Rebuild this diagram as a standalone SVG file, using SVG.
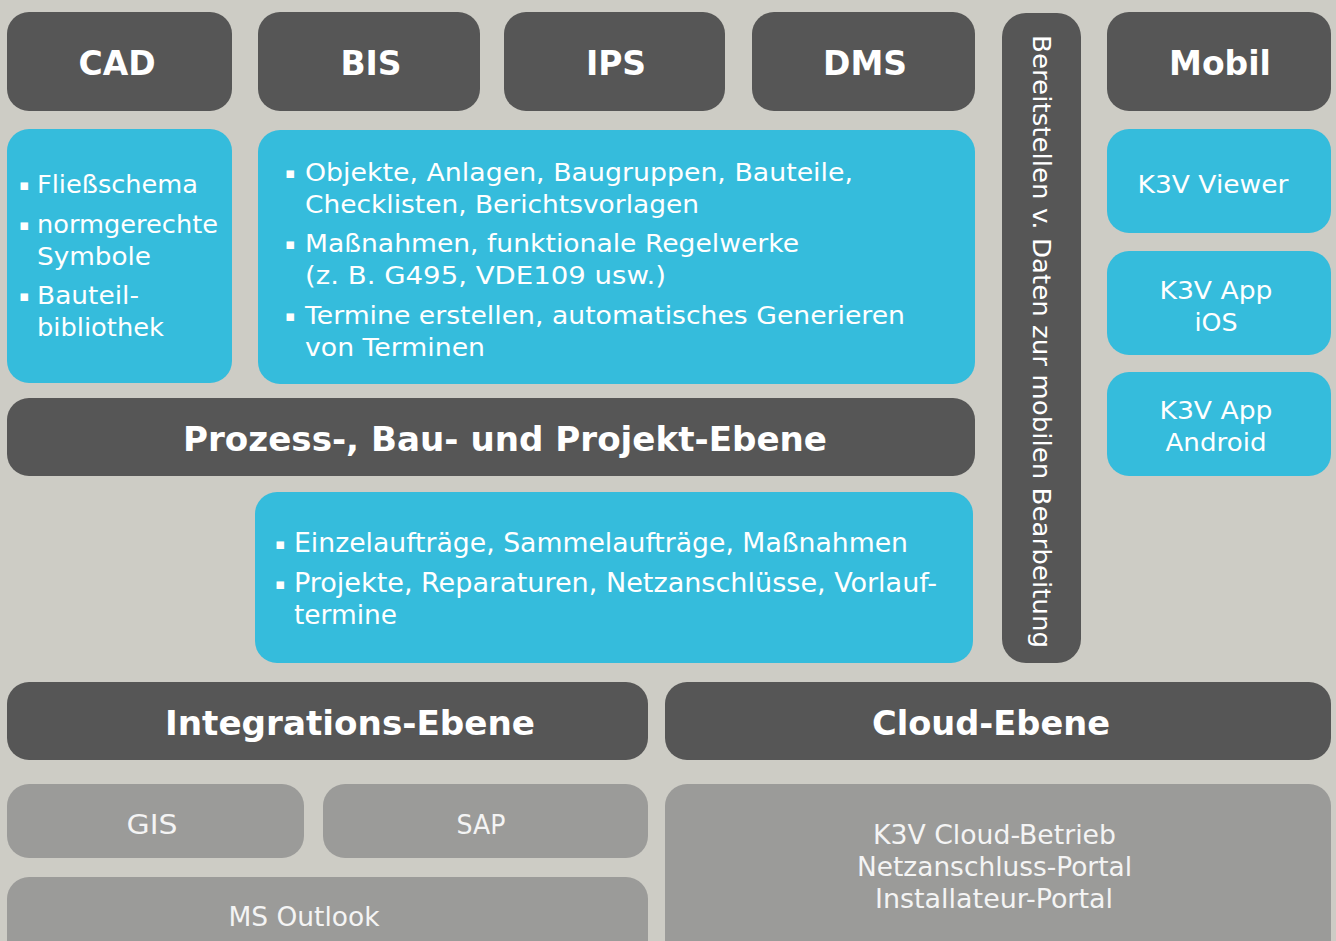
<svg xmlns="http://www.w3.org/2000/svg" width="1336" height="941" viewBox="0 0 1336 941">
<style>
.dark{fill:#565656}
.blue{fill:#35bcdc}
.grey{fill:#9b9b99}
.h{font-family:"DejaVu Sans","Liberation Sans",sans-serif;font-weight:bold;font-size:33px;fill:#ffffff}
.hc{font-family:"DejaVu Sans Condensed","DejaVu Sans","Liberation Sans",sans-serif;font-weight:bold;font-size:33px;fill:#ffffff}
.t{font-family:"DejaVu Sans","Liberation Sans",sans-serif;font-size:25px;fill:#ffffff}
.tc{font-family:"DejaVu Sans Condensed","DejaVu Sans","Liberation Sans",sans-serif;font-size:26px;fill:#ffffff}
.g{font-family:"DejaVu Sans Condensed","DejaVu Sans","Liberation Sans",sans-serif;font-size:27px;fill:#f4f4f4}
.b{font-family:"DejaVu Sans","Liberation Sans",sans-serif;font-size:15px;fill:#ffffff}
.m{text-anchor:middle}
</style>
<rect width="1336" height="941" fill="#cdccc5"/>
<g id="cad"><rect class="dark" x="7" y="12" width="225" height="99" rx="22"/><text class="h m" x="117" y="75">CAD</text></g>
<g id="bis"><rect class="dark" x="258" y="12" width="222" height="99" rx="22"/><text class="h m" x="371" y="75">BIS</text></g>
<g id="ips"><rect class="dark" x="504" y="12" width="221" height="99" rx="22"/><text class="h m" x="616" y="75">IPS</text></g>
<g id="dms"><rect class="dark" x="752" y="12" width="223" height="99" rx="22"/><text class="h m" x="865" y="75">DMS</text></g>
<g id="mobil"><rect class="dark" x="1107" y="12" width="224" height="99" rx="22"/><text class="h m" x="1220" y="75">Mobil</text></g>
<g id="bereitstellen"><rect class="dark" x="1002" y="13" width="79" height="650" rx="24"/><text class="t" transform="translate(1033,35) rotate(90)" textLength="613" lengthAdjust="spacingAndGlyphs" style="font-size:24px">Bereitstellen v. Daten zur mobilen Bearbeitung</text></g>
<g id="cad-details"><rect class="blue" x="7" y="129" width="225" height="254" rx="22"/>
<text class="b" x="19" y="190">▪</text><text class="t" x="37" y="193" textLength="161" lengthAdjust="spacingAndGlyphs">Fließschema</text>
<text class="b" x="19" y="230">▪</text><text class="t" x="37" y="233" textLength="181" lengthAdjust="spacingAndGlyphs">normgerechte</text>
<text class="t" x="37" y="265" textLength="114" lengthAdjust="spacingAndGlyphs">Symbole</text>
<text class="b" x="19" y="301">▪</text><text class="t" x="37" y="304" textLength="102" lengthAdjust="spacingAndGlyphs">Bauteil-</text>
<text class="t" x="37" y="336" textLength="127" lengthAdjust="spacingAndGlyphs">bibliothek</text>
</g>
<g id="bis-details"><rect class="blue" x="258" y="130" width="717" height="254" rx="22"/>
<text class="b" x="285" y="178">▪</text><text class="t" x="305" y="181" textLength="548" lengthAdjust="spacingAndGlyphs">Objekte, Anlagen, Baugruppen, Bauteile,</text>
<text class="t" x="305" y="213" textLength="394" lengthAdjust="spacingAndGlyphs">Checklisten, Berichtsvorlagen</text>
<text class="b" x="285" y="249">▪</text><text class="t" x="305" y="252" textLength="494" lengthAdjust="spacingAndGlyphs">Maßnahmen, funktionale Regelwerke</text>
<text class="t" x="305" y="284" textLength="361" lengthAdjust="spacingAndGlyphs">(z. B. G495, VDE109 usw.)</text>
<text class="b" x="285" y="321">▪</text><text class="t" x="305" y="324" textLength="600" lengthAdjust="spacingAndGlyphs">Termine erstellen, automatisches Generieren</text>
<text class="t" x="305" y="356" textLength="180" lengthAdjust="spacingAndGlyphs">von Terminen</text>
</g>
<g id="k3v-viewer"><rect class="blue" x="1107" y="129" width="224" height="104" rx="22"/><text class="t m" x="1213" y="193" textLength="151" lengthAdjust="spacingAndGlyphs">K3V Viewer</text></g>
<g id="k3v-ios"><rect class="blue" x="1107" y="251" width="224" height="104" rx="22"/><text class="t m" x="1216" y="299" textLength="113" lengthAdjust="spacingAndGlyphs">K3V App</text><text class="t m" x="1216" y="331" textLength="43" lengthAdjust="spacingAndGlyphs">iOS</text></g>
<g id="k3v-android"><rect class="blue" x="1107" y="372" width="224" height="104" rx="22"/><text class="t m" x="1216" y="419" textLength="113" lengthAdjust="spacingAndGlyphs">K3V App</text><text class="t m" x="1216" y="451" textLength="101" lengthAdjust="spacingAndGlyphs">Android</text></g>
<g id="prozess"><rect class="dark" x="7" y="398" width="968" height="78" rx="22"/><text class="h" x="183" y="451" textLength="644" lengthAdjust="spacingAndGlyphs">Prozess-, Bau- und Projekt-Ebene</text></g>
<g id="prozess-details"><rect class="blue" x="255" y="492" width="718" height="171" rx="22"/>
<text class="b" x="275" y="549">▪</text><text class="tc" x="294" y="552" textLength="614" lengthAdjust="spacingAndGlyphs">Einzelaufträge, Sammelaufträge, Maßnahmen</text>
<text class="b" x="275" y="589">▪</text><text class="tc" x="294" y="592" textLength="643" lengthAdjust="spacingAndGlyphs">Projekte, Reparaturen, Netzanschlüsse, Vorlauf-</text>
<text class="tc" x="294" y="624" textLength="103" lengthAdjust="spacingAndGlyphs">termine</text>
</g>
<g id="integration"><rect class="dark" x="7" y="682" width="641" height="78" rx="22"/><text class="hc" x="165" y="735" textLength="370" lengthAdjust="spacingAndGlyphs">Integrations-Ebene</text></g>
<g id="cloud"><rect class="dark" x="665" y="682" width="666" height="78" rx="22"/><text class="hc" x="872" y="735" textLength="238" lengthAdjust="spacingAndGlyphs">Cloud-Ebene</text></g>
<g id="gis"><rect class="grey" x="7" y="784" width="297" height="74" rx="22"/><text class="g m" x="152" y="834" textLength="51" lengthAdjust="spacingAndGlyphs">GIS</text></g>
<g id="sap"><rect class="grey" x="323" y="784" width="325" height="74" rx="22"/><text class="g m" x="481" y="834" textLength="49" lengthAdjust="spacingAndGlyphs">SAP</text></g>
<g id="outlook"><rect class="grey" x="7" y="877" width="641" height="90" rx="22"/><text class="g m" x="304" y="926" textLength="151" lengthAdjust="spacingAndGlyphs">MS Outlook</text></g>
<g id="cloud-details"><rect class="grey" x="665" y="784" width="666" height="183" rx="22"/>
<text class="g" x="873" y="844" textLength="243" lengthAdjust="spacingAndGlyphs">K3V Cloud-Betrieb</text>
<text class="g" x="857" y="876" textLength="275" lengthAdjust="spacingAndGlyphs">Netzanschluss-Portal</text>
<text class="g" x="875" y="908" textLength="238" lengthAdjust="spacingAndGlyphs">Installateur-Portal</text>
</g>
<g id="connectors"></g>
</svg>
